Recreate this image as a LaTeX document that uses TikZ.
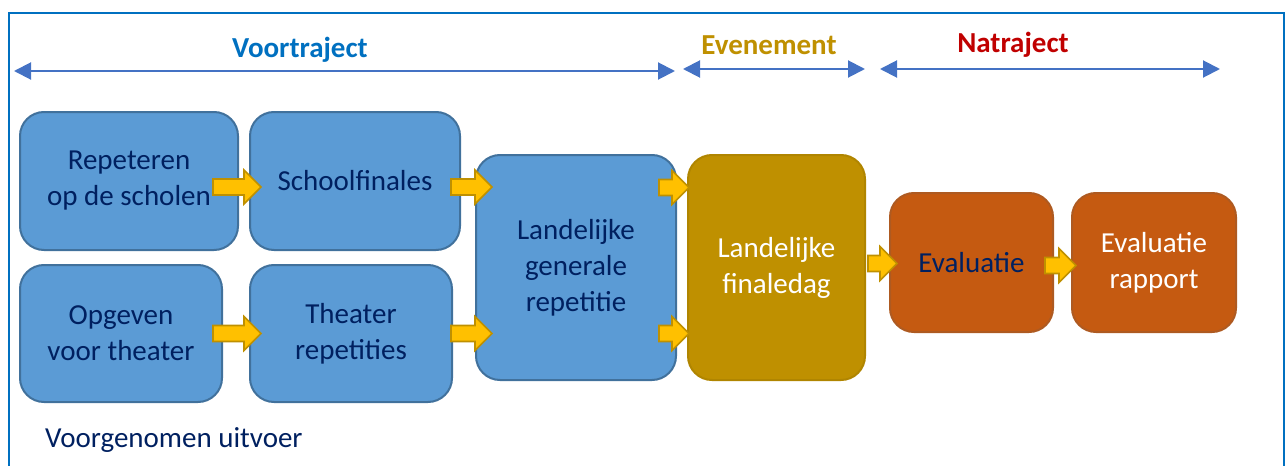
\documentclass[tikz,border=0pt]{standalone}
\usepackage{fontspec}
\setmainfont{Carlito}
\usetikzlibrary{arrows.meta,calc}
\definecolor{frameblue}{HTML}{0070C0}
\definecolor{spanblue}{HTML}{4472C4}
\definecolor{boxblue}{HTML}{5B9BD5}
\definecolor{boxblueline}{HTML}{41719C}
\definecolor{boxgold}{HTML}{BF9000}
\definecolor{boxgoldline}{HTML}{B08500}
\definecolor{boxorange}{HTML}{C55A11}
\definecolor{boxorangeline}{HTML}{AE5A21}
\definecolor{navy}{HTML}{002060}
\definecolor{redhead}{HTML}{C00000}
\definecolor{arrowfill}{HTML}{FFC000}
\definecolor{arrowline}{HTML}{BF9000}
\tikzset{
  stage/.style={rounded corners=12pt, line width=1pt, align=center, inner sep=0pt,
    font=\fontsize{14.5}{18}\selectfont},
  bluestage/.style={stage, fill=boxblue, draw=boxblueline, text=navy},
  goldstage/.style={stage, fill=boxgold, draw=boxgoldline, text=white},
  orangestage/.style={stage, fill=boxorange, draw=boxorangeline},
  phase/.style={font=\fontsize{14.5}{18}\selectfont\bfseries},
  span/.style={draw=spanblue, line width=1pt,
    {Triangle[length=8.5pt,width=8.5pt]}-{Triangle[length=8.5pt,width=8.5pt]}},
  yarrow/.style={fill=arrowfill, draw=arrowline, line width=0.8pt},
  blockarrow/.style={to path={let \p1=(\tikztostart), \p2=(\tikztotarget) in
    (\x1,\y1+4pt) -- (\x2-8.5pt,\y1+4pt) -- (\x2-8.5pt,\y1+8.5pt) -- (\x2,\y1)
    -- (\x2-8.5pt,\y1-8.5pt) -- (\x2-8.5pt,\y1-4pt) -- (\x1,\y1-4pt) -- cycle}}
}
\begin{document}
\begin{tikzpicture}[x=0.5pt,y=-0.5pt]
  \useasboundingbox (0,0) rectangle (1287,466);
  \clip (0,0) rectangle (1287,466);
  \draw[frameblue, line width=1.2pt] (9,13) rectangle (1284,490);

  \node[phase, text=frameblue] (voor) at (300,50) {Voortraject};
  \node[phase, text=boxgold] (even) at (769,45) {Evenement};
  \node[phase, text=redhead] (na) at (1013,45) {Natraject};
  \coordinate (voorL) at (14,71);
  \coordinate (voorR) at (675,71);
  \coordinate (evenL) at (683,69);
  \coordinate (evenR) at (865,69);
  \coordinate (naL) at (880,69);
  \coordinate (naR) at (1220,69);
  \draw[span] (voorL) -- (voorR);
  \draw[span] (evenL) -- (evenR);
  \draw[span] (naL) -- (naR);

  \node[bluestage, minimum width=109pt, minimum height=69pt] (rep) at (129,181) {Repeteren\\op de scholen};
  \node[bluestage, minimum width=105pt, minimum height=69pt] (school) at (355,181) {Schoolfinales};
  \node[bluestage, minimum width=101pt, minimum height=68.5pt] (opg) at (121,333.5) {Opgeven\\voor theater};
  \node[bluestage, minimum width=101pt, minimum height=68.5pt] (theat) at (351,333.5) {Theater\\repetities};
  \node[bluestage, minimum width=100pt, minimum height=112.5pt] (gen) at (576,267.5) {Landelijke\\generale\\repetitie};
  \node[goldstage, minimum width=88.5pt, minimum height=112.5pt] (finale) at (776.5,267.5) {Landelijke\\finaledag};
  \node[orangestage, text=navy, minimum width=81.5pt, minimum height=69.5pt] (eval) at (971.5,262.5) {Evaluatie};
  \node[orangestage, text=white, minimum width=82pt, minimum height=69.5pt] (rapport) at (1154,262.5) {Evaluatie\\rapport};

  \draw[yarrow] ([shift={(-26,6)}]rep.east) to[blockarrow] ([shift={(12,6)}]school.west);
  \draw[yarrow] ([shift={(-10,6)}]school.east) to[blockarrow] ([shift={(17,-80)}]gen.west);
  \draw[yarrow] ([shift={(-10,0)}]opg.east) to[blockarrow] ([shift={(12,0)}]theat.west);
  \draw[yarrow] ([shift={(-2,0)}]theat.east) to[blockarrow] ([shift={(17,66)}]gen.west);
  \draw[yarrow] ([shift={(-18,-80)}]gen.east) to[blockarrow] ([shift={(2,-80)}]finale.west);
  \draw[yarrow] ([shift={(-18,66)}]gen.east) to[blockarrow] ([shift={(2,66)}]finale.west);
  \draw[yarrow] ([shift={(2,-4)}]finale.east) to[blockarrow] ([shift={(8,0)}]eval.west);
  \draw[yarrow] ([shift={(-9,3)}]eval.east) to[blockarrow] ([shift={(5,3)}]rapport.west);

  \node[anchor=west, text=navy, font=\fontsize{14.5}{18}\selectfont] (note) at (38,440) {Voorgenomen uitvoer};
\end{tikzpicture}
\end{document}
